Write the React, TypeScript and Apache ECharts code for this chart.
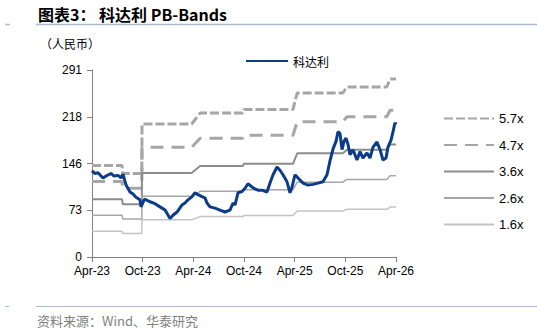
import React, { useEffect, useRef } from "react";
import * as echarts from "echarts";

// x values are months since Apr-2023 (0 = Apr-23, 36 = Apr-26)
const xTickLabels = ["Apr-23", "Oct-23", "Apr-24", "Oct-24", "Apr-25", "Oct-25", "Apr-26"];
const yMax = 291;
const yInterval = 72.75;

const priceMonths = [
  0, 0.32, 0.71, 1.3, 1.66, 2.25, 2.61, 3.08, 3.43, 3.67, 4.03, 4.5, 4.86, 5.21, 5.68, 5.8, 6.22,
  6.87, 7.46, 8.05, 8.65, 9.24, 9.59, 10.07, 10.66, 11.01, 11.37, 11.84, 12.2, 12.55, 13.03, 13.38,
  13.62, 13.97, 14.57, 15.16, 15.75, 16.34, 16.7, 16.94, 17.29, 17.76, 18.12, 18.47, 18.95, 19.3,
  19.66, 20.13, 20.72, 21.08, 21.44, 21.91, 22.26, 22.62, 23.09, 23.45, 23.69, 24.04, 24.4, 24.99,
  25.58, 26.17, 26.76, 27.35, 27.83, 28.19, 28.54, 28.9, 29.13, 29.37, 29.61, 29.84, 30.08, 30.32,
  30.55, 30.91, 31.38, 31.74, 32.09, 32.57, 32.92, 33.28, 33.75, 34.11, 34.46, 34.82, 35.05, 35.41,
  35.65, 35.88, 36,
];
const priceValues = [
  134, 130, 131, 123, 126, 130, 126, 127, 123, 129, 112, 101, 98, 93, 89, 78, 90,
  86, 83, 78, 73, 60, 65, 70, 81, 84, 89, 94, 100, 97, 94, 92,
  84, 78, 76, 73, 70, 73, 84, 81, 100, 102, 107, 114, 109, 106,
  104, 104, 101, 115, 128, 140, 135, 128, 117, 100, 109, 128, 123, 115,
  112, 113, 115, 117, 128, 150, 168, 180, 195, 192, 167, 180, 185, 175,
  159, 167, 151, 164, 154, 162, 154, 171, 179, 167, 151, 154, 171, 182,
  195, 209, 206,
];

// book value per share steps
const bookMonths = [0, 3.55, 3.65, 5.9, 5.92, 11.8, 12.8, 17.85, 18.0, 23.8, 24.3, 29.7, 30.2, 34.9, 35.3, 36];
const bookValues = [25.0, 25.0, 22.8, 22.8, 36.3, 36.3, 39.3, 39.3, 40.3, 40.3, 44.8, 44.8, 46.4, 46.4, 48.6, 48.6];

const bandNames = ["5.7x", "4.7x", "3.6x", "2.6x", "1.6x"];
const bandMultiples = [5.7, 4.7, 3.6, 2.6, 1.6];
const bandColors = ["#A6A6A6", "#A6A6A6", "#8C8C8C", "#A6A6A6", "#C4C4C4"];
const bandWidths = [3, 3, 2, 1.5, 1.5];
const bandTypes: any[] = [[9, 3], [13, 8], "solid", "solid", "solid"];

const priceName = "科达利";

export default function App() {
  const ref = useRef<HTMLDivElement>(null);
  useEffect(() => {
    if (!ref.current) return;
    const chart = echarts.init(ref.current, null, { renderer: "svg" });
    const cjk = "'Noto Sans CJK SC', sans-serif";
    const latin = "'Liberation Sans', Arial, sans-serif";
    const bandSeries = bandNames.map((name, k) => ({
      name,
      type: "line",
      symbol: "none",
      data: bookMonths.map((m, i) => [m, +(bookValues[i] * bandMultiples[k]).toFixed(2)]),
      lineStyle: { color: bandColors[k], width: bandWidths[k], type: bandTypes[k] },
      itemStyle: { color: bandColors[k] },
      z: 2,
    }));
    chart.setOption({
      animation: false,
      grid: { left: 92, right: 141, top: 70, bottom: 75 },
      xAxis: {
        type: "value",
        min: 0,
        max: 36,
        interval: 6,
        axisLine: { lineStyle: { color: "#808080" } },
        axisTick: { length: 5, lineStyle: { color: "#808080" } },
        splitLine: { show: false },
        axisLabel: {
          color: "#000",
          fontSize: 12,
          fontFamily: latin,
          margin: 8,
          formatter: (v: number) => xTickLabels[Math.round(v / 6)] ?? "",
        },
      },
      yAxis: {
        type: "value",
        min: 0,
        max: yMax,
        interval: yInterval,
        axisLine: { show: true, lineStyle: { color: "#808080" } },
        axisTick: { show: true, length: 5, lineStyle: { color: "#808080" } },
        splitLine: { show: false },
        axisLabel: {
          color: "#000",
          fontSize: 12,
          fontFamily: latin,
          margin: 10,
          formatter: (v: number) => String(Math.round(v)),
        },
      },
      legend: [
        {
          data: [priceName],
          left: 240,
          top: 50,
          itemWidth: 42,
          itemHeight: 12,
          itemStyle: { opacity: 0 },
          selectedMode: false,
          textStyle: { fontSize: 12, fontFamily: cjk, color: "#000" },
        },
        {
          data: bandNames,
          orient: "vertical",
          left: 438,
          top: 107,
          itemWidth: 50,
          itemHeight: 14,
          itemGap: 13.5,
          itemStyle: { opacity: 0 },
          selectedMode: false,
          textStyle: { fontSize: 13, fontFamily: latin, color: "#000" },
        },
      ],
      series: [
        ...bandSeries,
        {
          name: priceName,
          type: "line",
          symbol: "none",
          data: priceMonths.map((m, i) => [m, priceValues[i]]),
          lineStyle: { color: "#0B3C8A", width: 3 },
          itemStyle: { color: "#0B3C8A" },
          z: 5,
        },
      ],
      graphic: [
        {
          type: "text",
          x: 38,
          y: 14,
          style: { text: "图表3： 科达利 PB-Bands", font: `bold 16px ${cjk}`, fill: "#000", verticalAlign: "middle" },
        },
        { type: "line", shape: { x1: 36, y1: 24.5, x2: 537, y2: 24.5 }, style: { stroke: "#A9BCD0", lineWidth: 1.5 } },
        { type: "line", shape: { x1: 5, y1: 24.5, x2: 10, y2: 24.5 }, style: { stroke: "#A9BCD0", lineWidth: 1.5 } },
        {
          type: "text",
          x: 40,
          y: 43,
          style: { text: "（人民币）", font: `12px ${cjk}`, fill: "#000", verticalAlign: "middle" },
        },
        { type: "line", shape: { x1: 36, y1: 306.5, x2: 537, y2: 306.5 }, style: { stroke: "#A9BCD0", lineWidth: 1 } },
        { type: "line", shape: { x1: 5, y1: 306.5, x2: 9, y2: 306.5 }, style: { stroke: "#A9BCD0", lineWidth: 1 } },
        {
          type: "text",
          x: 37,
          y: 320,
          style: { text: "资料来源：Wind、华泰研究", font: `13px ${cjk}`, fill: "#7F7F7F", verticalAlign: "middle" },
        },
      ],
    });
    return () => chart.dispose();
  }, []);
  return <div ref={ref} style={{ position: "absolute", left: 0, top: 0, width: 537, height: 332 }} />;
}
